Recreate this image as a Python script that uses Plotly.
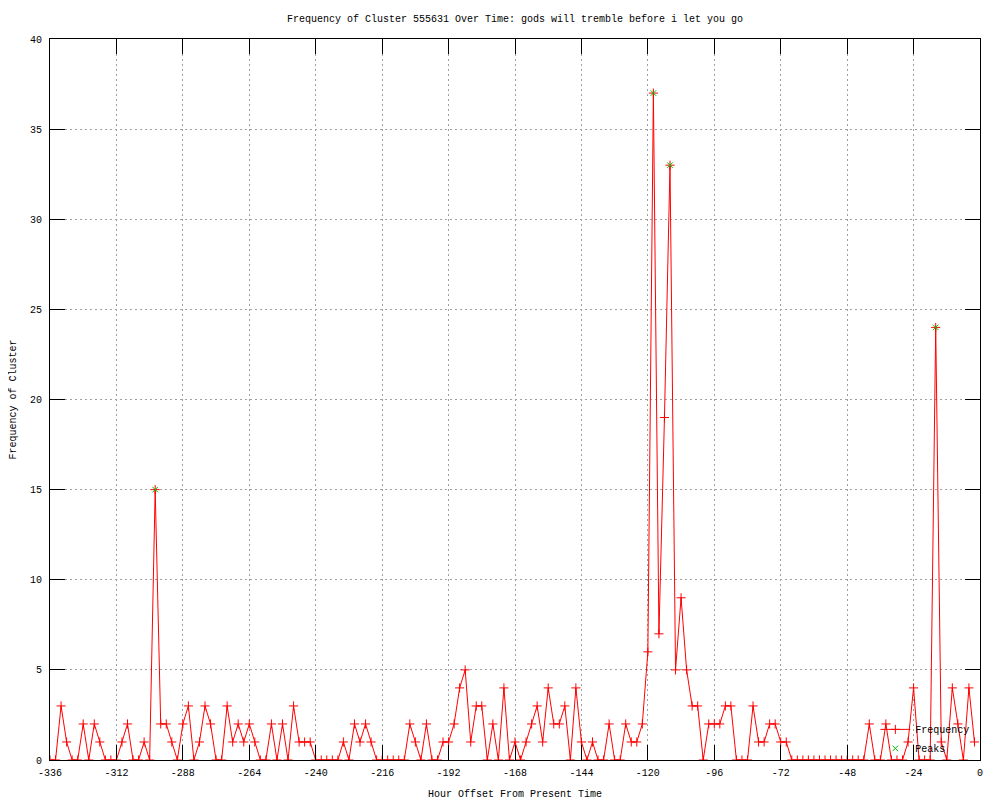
import plotly.graph_objects as go

# ---- data ----
HOURS = list(range(-336, 0, 2))  # hourly offsets, sampled every 2 hours
FREQUENCY = [
    0, 0, 3, 1, 0, 0, 2, 0, 2, 1,
    0, 0, 0, 1, 2, 0, 0, 1, 0, 15,
    2, 2, 1, 0, 2, 3, 0, 1, 3, 2,
    0, 0, 3, 1, 2, 1, 2, 1, 0, 0,
    2, 0, 2, 0, 3, 1, 1, 1, 0, 0,
    0, 0, 0, 1, 0, 2, 1, 2, 1, 0,
    0, 0, 0, 0, 0, 2, 1, 0, 2, 0,
    0, 1, 1, 2, 4, 5, 1, 3, 3, 0,
    2, 0, 4, 0, 1, 0, 1, 2, 3, 1,
    4, 2, 2, 3, 0, 4, 1, 0, 1, 0,
    0, 2, 0, 0, 2, 1, 1, 2, 6, 37,
    7, 19, 33, 5, 9, 5, 3, 3, 0, 2,
    2, 2, 3, 3, 0, 0, 0, 3, 1, 1,
    2, 2, 1, 1, 0, 0, 0, 0, 0, 0,
    0, 0, 0, 0, 0, 0, 0, 0, 2, 0,
    0, 2, 0, 0, 0, 1, 4, 0, 0, 0,
    24, 1, 0, 4, 2, 0, 4, 1,
]
PEAK_HOURS = [-298, -118, -112, -16]
PEAK_VALUES = [15, 37, 33, 24]

X_TICKS = [-336, -312, -288, -264, -240, -216, -192, -168, -144, -120, -96, -72, -48, -24, 0]
X_TICK_LABELS = ["-336", "-312", "-288", "-264", "-240", "-216", "-192", "-168",
                 "-144", "-120", "-96", "-72", "-48", "-24", "0"]
Y_TICKS = [0, 5, 10, 15, 20, 25, 30, 35, 40]

TITLE = "Frequency of Cluster 555631 Over Time: gods will tremble before i let you go"
X_TITLE = "Hour Offset From Present Time"
Y_TITLE = "Frequency of Cluster"

FONT = "Liberation Mono, DejaVu Sans Mono, monospace"
FS = 10
RED = "#ff0000"
GREEN = "#00c000"

# the page body adds an 8px margin, so the figure is sized to fit the window
FIG_W, FIG_H = 992, 792

fig = go.Figure()
fig.add_trace(go.Scatter(
    x=HOURS, y=FREQUENCY, name="Frequency", mode="lines+markers",
    line=dict(color=RED, width=1),
    marker=dict(symbol="cross-thin", size=6.5, color=RED,
                line=dict(color=RED, width=1)),
))
fig.add_trace(go.Scatter(
    x=PEAK_HOURS, y=PEAK_VALUES, name="Peaks", mode="markers",
    marker=dict(symbol="x-thin", size=5.5, color=GREEN,
                line=dict(color=GREEN, width=1)),
))

axis_common = dict(
    showline=True, linecolor="black", linewidth=1, mirror="ticks",
    ticks="inside", ticklen=15, tickcolor="black", tickwidth=1,
    showgrid=True, gridcolor="#a0a0a0", gridwidth=1, griddash="2px,3px",
    zeroline=False, automargin=False,
    tickfont=dict(family=FONT, size=FS, color="black"),
)

fig.update_layout(
    width=FIG_W, height=FIG_H,
    paper_bgcolor="white", plot_bgcolor="white",
    margin=dict(l=42, r=20, t=31, b=40),
    font=dict(family=FONT, size=FS, color="black"),
    title=dict(text=TITLE, x=0.5, xref="paper", y=1 - 10 / FIG_H, yref="container",
               yanchor="middle", xanchor="center",
               font=dict(family=FONT, size=FS, color="black")),
    xaxis=dict(range=[-336, 0], tickvals=X_TICKS, ticktext=X_TICK_LABELS,
               ticklabelstandoff=3,
               title=dict(text=X_TITLE, standoff=16, font=dict(family=FONT, size=FS)),
               **axis_common),
    yaxis=dict(range=[0, 40], tickvals=Y_TICKS, ticklabelstandoff=5,
               title=dict(text=Y_TITLE, standoff=18, font=dict(family=FONT, size=FS)),
               **axis_common),
    legend=dict(x=0.995, xanchor="right", y=-0.004, yanchor="bottom",
                bgcolor="rgba(0,0,0,0)", font=dict(family=FONT, size=FS),
                tracegroupgap=0, itemwidth=30),
    showlegend=True,
)

fig.write_html("out.html")
